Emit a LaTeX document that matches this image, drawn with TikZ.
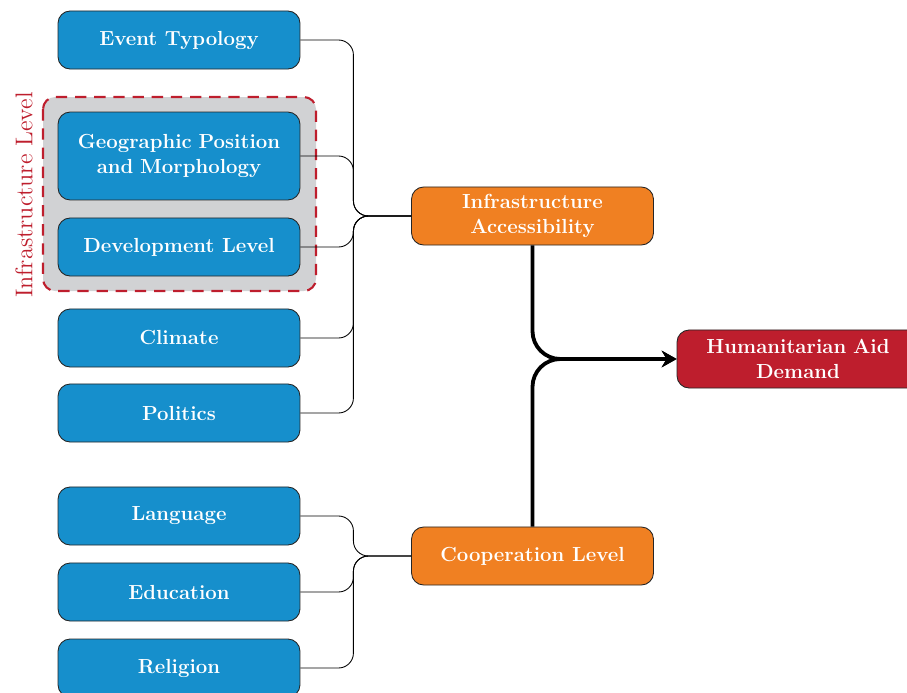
\documentclass[tikz,border=0pt]{standalone}
\usetikzlibrary{arrows.meta}
\definecolor{boxblue}{RGB}{22,143,204}
\definecolor{boxorange}{RGB}{240,128,34}
\definecolor{boxred}{RGB}{190,30,45}
\definecolor{groupgray}{RGB}{209,210,212}
\tikzset{
  basebox/.style={draw=black!85, line width=0.5pt, rounded corners=7pt, text=white,
    font=\fontsize{11.7}{14.3}\selectfont\bfseries, align=center, minimum width=138.9pt, minimum height=33.3pt, inner sep=2pt},
  bluebox/.style={basebox, fill=boxblue},
  orangebox/.style={basebox, fill=boxorange},
  redbox/.style={basebox, fill=boxred},
  conn/.style={draw=black, line width=0.5pt, rounded corners=8.6pt},
  mainarrow/.style={draw=black, line width=2.2pt, rounded corners=16pt, -{Stealth[length=8.5pt,width=9.5pt]}}
}
\begin{document}
\begin{tikzpicture}[x=0.574pt,y=-0.574pt]
\useasboundingbox (0,0) rectangle (907,693);
% group background
\draw[fill=groupgray, draw=boxred, line width=1.2pt, dash pattern=on 6.5pt off 4.5pt, rounded corners=7pt]
  (43,97) rectangle (316,291);
\node[rotate=90, text=boxred, font=\fontsize{13.9}{16}\selectfont] (grouplabel) at (24,195) {Infrastructure Level};
% left nodes
\node[bluebox] (event) at (179,40) {Event Typology};
\node[bluebox, minimum height=50.5pt, text width=134pt] (geo) at (179,156) {Geographic Position\\and Morphology};
\node[bluebox] (dev) at (179,247) {Development Level};
\node[bluebox] (climate) at (179,338) {Climate};
\node[bluebox] (politics) at (179,413) {Politics};
\node[bluebox] (lang) at (179,516) {Language};
\node[bluebox] (edu) at (179,592) {Education};
\node[bluebox] (rel) at (179,668) {Religion};
% middle nodes
\node[orangebox, text width=134pt] (infra) at (532.5,216) {Infrastructure\\Accessibility};
\node[orangebox] (coop) at (532.5,556) {Cooperation Level};
% right node
\node[redbox, text width=134pt] (demand) at (798,359) {Humanitarian Aid\\Demand};
% connectors
\foreach \n in {event,geo,dev,climate,politics}
  \draw[conn] (\n.east) -- ++(53,0) |- (infra.west);
\foreach \n in {lang,edu,rel}
  \draw[conn] (\n.east) -- ++(53,0) |- (coop.west);
\draw[mainarrow] (infra.south) |- (demand.west);
\draw[mainarrow] (coop.north) |- (demand.west);
\end{tikzpicture}
\end{document}
